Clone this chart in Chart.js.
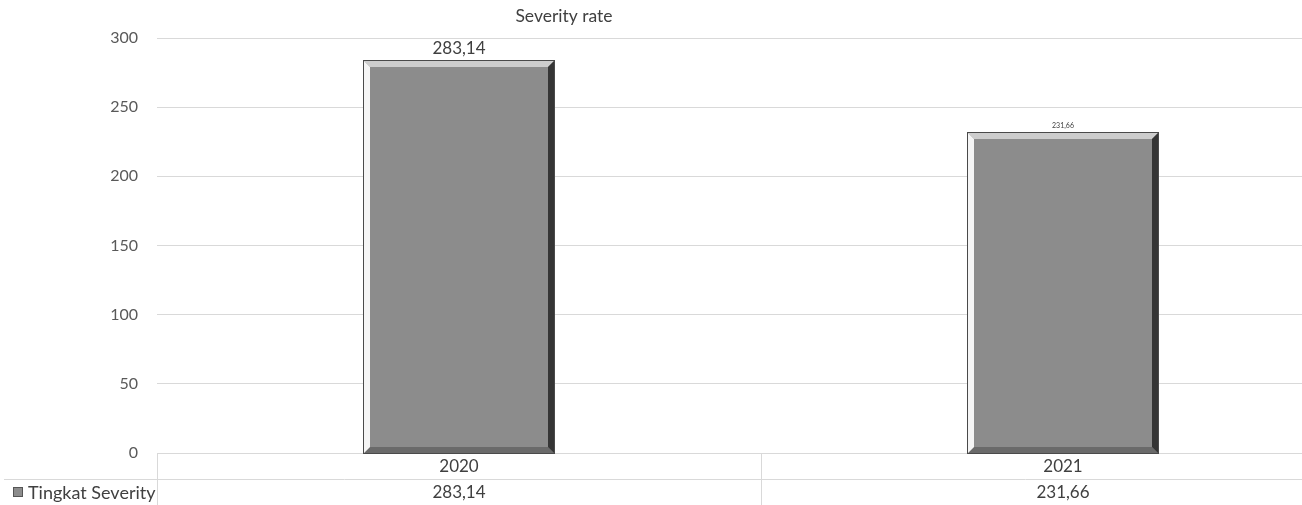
<!DOCTYPE html>
<html>
<head>
<meta charset="utf-8">
<script src="https://cdn.jsdelivr.net/npm/chart.js@4.4.1/dist/chart.umd.min.js"></script>
<style>
  html, body { margin: 0; padding: 0; background: #ffffff; overflow: hidden; }
  #wrap { position: relative; width: 1366px; height: 505px; }
</style>
</head>
<body>
<div id="wrap"><canvas id="chart"></canvas></div>
<script>
// Severity rate per year
const years = ['2020', '2021'];
const severityRate = [283.14, 231.66];
const seriesName = 'Tingkat Severity';
const chartTitle = 'Severity rate';
const yMin = 0, yMax = 300, yStep = 50;

const FONT = 'Lato, "Open Sans", "Liberation Sans", sans-serif';
const TEXT = '#404040';
const GRID = '#d9d9d9';

const fmt = v => v.toFixed(2).replace('.', ',');

// Beveled bar faces drawn over each bar element
const bevelBars = {
  id: 'bevelBars',
  afterDatasetsDraw(chart, args, opts) {
    const ctx = chart.ctx;
    const meta = chart.getDatasetMeta(0);
    const d = opts.depth;
    meta.data.forEach(bar => {
      const p = bar.getProps(['x', 'y', 'base', 'width'], true);
      const l = Math.round(p.x - p.width / 2), r = Math.round(p.x + p.width / 2);
      const t = Math.round(p.y), b = Math.round(p.base);
      const poly = (pts, color) => {
        ctx.beginPath();
        ctx.moveTo(pts[0][0], pts[0][1]);
        for (let i = 1; i < pts.length; i++) ctx.lineTo(pts[i][0], pts[i][1]);
        ctx.closePath();
        ctx.fillStyle = color;
        ctx.fill();
      };
      ctx.save();
      poly([[l, t], [r, t], [r, b], [l, b]], opts.face);
      poly([[l, t], [r, t], [r - d, t + d], [l + d, t + d]], opts.top);
      poly([[l, b], [r, b], [r - d, b - d], [l + d, b - d]], opts.bottom);
      poly([[l, t], [l + d, t + d], [l + d, b - d], [l, b]], opts.left);
      poly([[r, t], [r, b], [r - d, b - d], [r - d, t + d]], opts.right);
      ctx.strokeStyle = opts.outline;
      ctx.lineWidth = 1;
      ctx.strokeRect(l - 0.5, t - 0.5, r - l + 1, b - t + 1);
      ctx.restore();
    });
  }
};

// Value labels above the bars
const valueLabels = {
  id: 'valueLabels',
  afterDatasetsDraw(chart, args, opts) {
    const ctx = chart.ctx;
    const meta = chart.getDatasetMeta(0);
    const values = chart.data.datasets[0].data;
    ctx.save();
    ctx.fillStyle = TEXT;
    ctx.textAlign = 'center';
    ctx.textBaseline = 'bottom';
    meta.data.forEach((bar, i) => {
      const size = opts.sizes[i];
      ctx.font = size + 'px ' + FONT;
      ctx.fillText(fmt(values[i]), bar.x, bar.y - opts.gaps[i]);
    });
    ctx.restore();
  }
};

// Title and data table under the plot
const titleAndTable = {
  id: 'titleAndTable',
  afterDraw(chart, args, opts) {
    const ctx = chart.ctx;
    const area = chart.chartArea;
    const xs = chart.scales.x;
    const n = chart.data.labels.length;
    const cat = (area.right - area.left) / n;
    const row = opts.rowHeight;
    const top = area.bottom;
    ctx.save();

    // title
    ctx.fillStyle = TEXT;
    ctx.font = opts.titleSize + 'px ' + FONT;
    ctx.textAlign = 'center';
    ctx.textBaseline = 'middle';
    ctx.fillText(chartTitle, opts.titleX, opts.titleY);

    // table grid
    ctx.strokeStyle = GRID;
    ctx.lineWidth = 1;
    ctx.beginPath();
    ctx.moveTo(opts.tableLeft, Math.round(top + row) + 0.5);
    ctx.lineTo(chart.width, Math.round(top + row) + 0.5);
    for (let i = 0; i <= n; i++) {
      const vx = Math.round(area.left + i * cat) + 0.5;
      ctx.moveTo(vx, top);
      ctx.lineTo(vx, chart.height);
    }
    ctx.stroke();

    // table text
    ctx.font = opts.textSize + 'px ' + FONT;
    ctx.fillStyle = TEXT;
    const vals = chart.data.datasets[0].data;
    chart.data.labels.forEach((lab, i) => {
      const cx = xs.getPixelForValue(i);
      ctx.fillText(lab, cx, top + row / 2 + 1);
      ctx.fillText(fmt(vals[i]), cx, top + row * 1.5 + 1);
    });

    // legend key and series name
    const ky = top + row * 1.5;
    ctx.fillStyle = '#8c8c8c';
    ctx.fillRect(opts.keyX, ky - 5, 10, 10);
    ctx.strokeStyle = '#555555';
    ctx.strokeRect(opts.keyX + 0.5, ky - 4.5, 9, 9);
    ctx.fillStyle = TEXT;
    ctx.textAlign = 'left';
    ctx.font = opts.legendSize + 'px ' + FONT;
    ctx.fillText(seriesName, opts.keyX + 15, ky + 1);
    ctx.restore();
  }
};

new Chart(document.getElementById('chart'), {
  type: 'bar',
  data: {
    labels: years,
    datasets: [{
      label: seriesName,
      data: severityRate,
      backgroundColor: '#8c8c8c',
      borderWidth: 0,
      barPercentage: 0.63,
      categoryPercentage: 0.5
    }]
  },
  options: {
    responsive: true,
    maintainAspectRatio: false,
    animation: false,
    layout: { padding: { top: 38, right: 1, bottom: 52, left: 0 } },
    plugins: {
      legend: { display: false },
      title: { display: false },
      tooltip: { enabled: false },
      bevelBars: {
        depth: 6,
        face: '#8c8c8c',
        top: '#cdcdcd',
        bottom: '#6a6a6a',
        left: '#f5f5f5',
        right: '#353535',
        outline: '#4a4a4a'
      },
      valueLabels: { sizes: [17, 7], gaps: [4, 3] },
      titleAndTable: {
        titleX: 564, titleY: 16, titleSize: 17.5,
        rowHeight: 26, textSize: 17, legendSize: 18,
        tableLeft: 4, keyX: 13
      }
    },
    scales: {
      x: { display: false },
      y: {
        min: yMin,
        max: yMax,
        border: { display: false },
        grid: { color: GRID, lineWidth: 1, drawTicks: false },
        ticks: {
          stepSize: yStep,
          padding: 19,
          color: '#595959',
          font: { family: FONT, size: 16 }
        },
        afterFit(scale) { scale.width = 157; }
      }
    }
  },
  plugins: [bevelBars, valueLabels, titleAndTable]
});
</script>
</body>
</html>
